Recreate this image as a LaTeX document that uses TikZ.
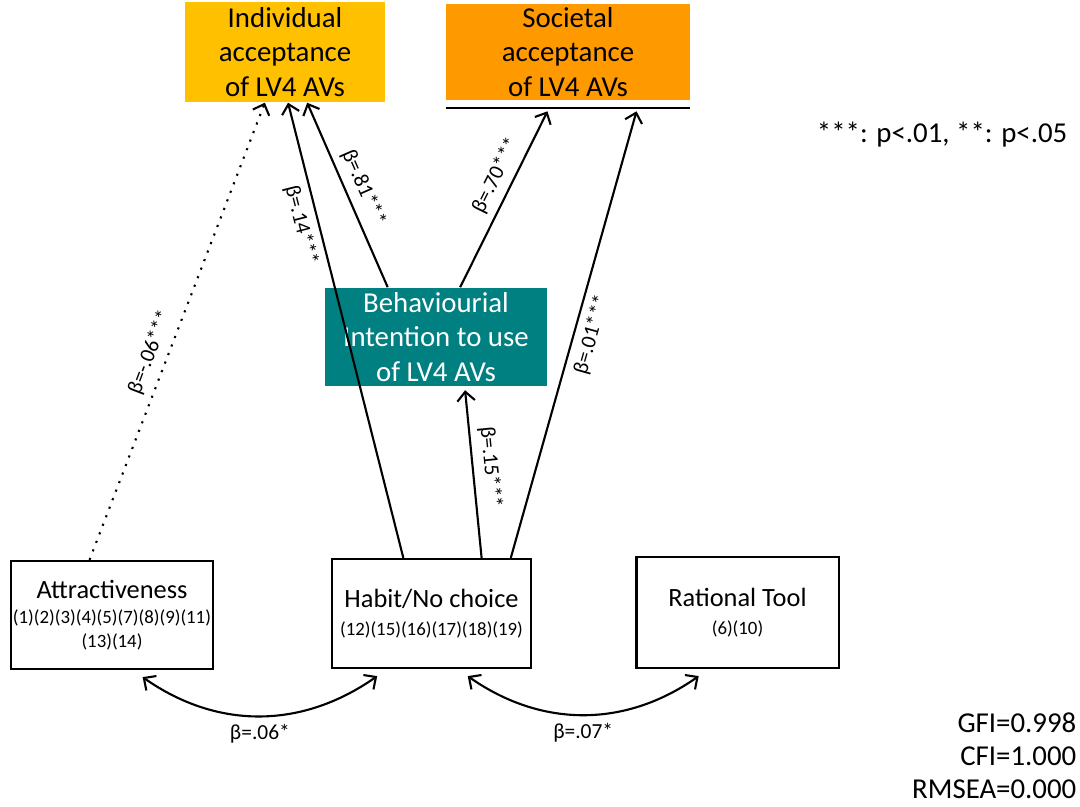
\documentclass[tikz,border=0pt]{standalone}
\usepackage{fontspec}
\setmainfont{Carlito}
\usepackage{xcolor}
\definecolor{amberbox}{RGB}{255,192,0}
\definecolor{orangebox}{RGB}{255,153,0}
\definecolor{tealbox}{RGB}{0,128,128}
\usepackage{tikz}
\usetikzlibrary{arrows.meta, positioning, calc}
\newcommand{\items}[1]{{\fontsize{5.35}{6.4}\selectfont #1}}

\begin{document}
\begin{tikzpicture}[
    x=0.01cm, y=0.01cm,
    >={Straight Barb[length=2.6pt, width=5pt]},
    font=\fontsize{8.2}{9.8}\selectfont,
    outcome/.style={rectangle, minimum height=1cm, align=center, inner sep=1pt},
    mediator/.style={rectangle, fill=tealbox, text=white, minimum width=2.22cm, minimum height=0.98cm, align=center, inner sep=1pt},
    factor/.style={draw, rectangle, line width=0.6pt, minimum width=2.02cm, minimum height=1.08cm, align=center, inner sep=0.5pt, font=\fontsize{7.5}{8.8}\selectfont},
    effect/.style={->, line width=0.6pt},
    covar/.style={<->, line width=0.6pt},
    coef/.style={font=\fontsize{6.1}{7}\selectfont, sloped, inner sep=2pt}
  ]
  \useasboundingbox (0,0) rectangle (1080,807);

  % Top Row: Acceptance outcomes
  \node (indiv) at (285, 755) [outcome, fill=amberbox, minimum width=2cm] {Individual\\acceptance\\of LV4 AVs};
  \node (soc) at (568, 755) [outcome, fill=orangebox, minimum width=2.43cm, minimum height=0.96cm] {Societal\\acceptance\\of LV4 AVs};
  \draw[line width=0.6pt] ([yshift=-2pt]soc.south west) -- ([yshift=-2pt]soc.south east);

  % Middle: Behavioural intention
  \node (beh) at (436, 470) [mediator] {Behaviourial\\Intention to use\\of LV4 AVs};

  % Bottom Row: Motive factors
  \node (attr) at (112, 192) [factor] {Attractiveness\\[-1.5pt]\items{(1)(2)(3)(4)(5)(7)(8)(9)(11)}\\[-2pt]\items{(13)(14)}};
  \node (habit) at (431.5, 193.5) [factor, minimum width=1.99cm, minimum height=1.09cm] {Habit/No choice\\[-1pt]\items{(12)(15)(16)(17)(18)(19)}};
  \node (rat) at (737.5, 194.5) [factor, minimum height=1.11cm] {Rational Tool\\[-1pt]\items{(6)(10)}};

  % Notes
  \node (sig) at (1068, 672) [anchor=east, inner sep=0pt] {***: p<.01, **: p<.05};
  \node (fit) at (1077, 51) [anchor=east, align=right, inner sep=0pt, font=\fontsize{8.2}{9.4}\selectfont] {GFI=0.998\\CFI=1.000\\RMSEA=0.000};

  % Structural paths
  \draw[effect, dotted] ($(attr.north west)!0.39!(attr.north east)$) -- ($(indiv.south west)!0.40!(indiv.south east)$)
    node[coef, pos=0.44, above] {β=-.06***};
  \draw[effect] ($(habit.north west)!0.36!(habit.north east)$) -- ($(indiv.south west)!0.515!(indiv.south east)$)
    node[coef, pos=0.74, below] {β=.14***};
  \draw[effect] ($(beh.north west)!0.284!(beh.north east)$) -- ($(indiv.south west)!0.61!(indiv.south east)$)
    node[coef, pos=0.5, above] {β=.81***};
  \draw[effect] ($(beh.north west)!0.608!(beh.north east)$) -- ([yshift=-3pt]$(soc.south west)!0.416!(soc.south east)$)
    node[coef, pos=0.59, above] {β=.70***};
  \draw[effect] ($(habit.north west)!0.894!(habit.north east)$) -- ([yshift=-3pt]$(soc.south west)!0.78!(soc.south east)$)
    node[coef, pos=0.51, below] {β=.01***};
  \draw[effect] ($(habit.north west)!0.749!(habit.north east)$) -- ([yshift=-1pt]$(beh.south west)!0.63!(beh.south east)$)
    node[coef, pos=0.53, above] {β=.15***};

  % Covariances
  \draw[covar] ([yshift=-2pt]$(attr.south west)!0.65!(attr.south east)$) to[out=-35, in=-145, looseness=1]
    node[below, inner sep=2pt, font=\fontsize{6.1}{7}\selectfont] {β=.06*} ([yshift=-2pt]$(habit.south west)!0.23!(habit.south east)$);
  \draw[covar] ([yshift=-2pt]$(habit.south west)!0.68!(habit.south east)$) to[out=-35, in=-145, looseness=1]
    node[below, inner sep=2pt, font=\fontsize{6.1}{7}\selectfont] {β=.07*} ([yshift=-2pt]$(rat.south west)!0.31!(rat.south east)$);

\end{tikzpicture}
\end{document}
